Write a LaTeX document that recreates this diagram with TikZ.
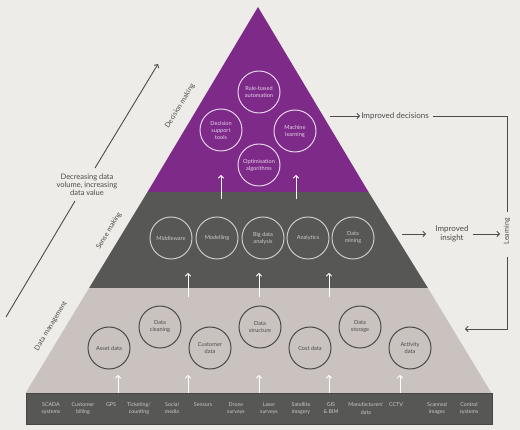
\documentclass[tikz,border=0pt]{standalone}
\usepackage{fontspec}
\setmainfont{Lato}
\usetikzlibrary{arrows.meta}
\definecolor{bgc}{HTML}{EDECE8}
\definecolor{purp}{HTML}{7D2A88}
\definecolor{darkl}{HTML}{575756}
\definecolor{lightl}{HTML}{C9C2BF}
\definecolor{barc}{HTML}{575755}
\definecolor{txtc}{HTML}{4C4C4C}
\definecolor{pcirc}{HTML}{E6D3EA}
\definecolor{gcirc}{HTML}{CACAC8}
\definecolor{dcirc}{HTML}{4A4A4A}
\tikzset{
  tip/.style={-{Straight Barb[length=2.6pt,width=5.5pt,line width=0.9pt]}},
  uparr/.style={tip, draw=white, line width=0.9pt},
  sidearr/.style={tip, draw=txtc, line width=0.9pt},
  sideline/.style={draw=txtc, line width=0.9pt},
  circ/.style={circle, minimum size=42pt, inner sep=0pt, align=center, line width=1pt, font=\fontsize{5.6}{7}\selectfont},
  pc/.style={circ, draw=pcirc, text=pcirc},
  gc/.style={circ, draw=gcirc, text=gcirc},
  dc/.style={circ, draw=dcirc, text=dcirc},
  barlbl/.style={anchor=north, inner sep=0pt, align=center, text=gcirc, font=\fontsize{5.3}{7.3}\selectfont},
  layerlbl/.style={rotate=59, text=txtc, font=\fontsize{7}{8}\selectfont, inner sep=0pt},
  sidelbl/.style={text=txtc, align=center, font=\fontsize{8}{8.5}\selectfont, inner sep=1pt}
}
\begin{document}
\begin{tikzpicture}[x=1pt,y=-1pt]
\useasboundingbox (0,0) rectangle (520,430);
\fill[bgc] (0,0) rectangle (520,430);
% layers
\fill[lightl] (89.1,288) -- (427.9,288) -- (491.4,393) -- (25.6,393) -- cycle;
\fill[darkl] (147.5,192) -- (368.5,192) -- (427.9,288) -- (89.1,288) -- cycle;
\fill[purp] (258,7) -- (368.5,192) -- (147.5,192) -- cycle;
\filldraw[fill=barc, draw=darkl!80!black, line width=0.5pt] (26,393) rectangle (492,424);

% decision making circles
\node[pc] (rba) at (259,92) {Rule-based\\automation};
\node[pc] (dst) at (221,130) {Decision\\support\\tools};
\node[pc] (ml) at (295,131) {Machine\\learning};
\node[pc] (oa) at (259,165) {Optimisation\\algorithms};

% sense making circles
\node[gc] (mw) at (171,238) {Middleware};
\node[gc] (mo) at (217,238) {Modelling};
\node[gc] (bda) at (263,238) {Big data\\analysis};
\node[gc] (an) at (308,238) {Analytics};
\node[gc] (dmi) at (353,238) {Data\\mining};

% data management circles
\node[dc] (ad) at (109,348) {Asset data};
\node[dc] (dcl) at (160,327) {Data\\cleaning};
\node[dc] (cud) at (210,348) {Customer\\data};
\node[dc] (dsu) at (260,327) {Data\\structure};
\node[dc] (cod) at (310,348) {Cost data};
\node[dc] (dsg) at (360,327) {Data\\storage};
\node[dc] (acd) at (410,348) {Activity\\data};

% bottom bar labels
\node[barlbl] (b1) at (51,402.5) {SCADA\\systems};
\node[barlbl] (b2) at (83,402.5) {Customer\\billing};
\node[barlbl] (b3) at (111,402.5) {GPS};
\node[barlbl] (b4) at (139,402.5) {Ticketing/\\counting};
\node[barlbl] (b5) at (172,402.5) {Social\\media};
\node[barlbl] (b6) at (203,402.5) {Sensors};
\node[barlbl] (b7) at (236,402.5) {Drone\\surveys};
\node[barlbl] (b8) at (269,402.5) {Laser\\surveys};
\node[barlbl] (b9) at (301,402.5) {Satellite\\imagery};
\node[barlbl] (b10) at (331,402.5) {GIS\\\& BIM};
\node[barlbl] (b11) at (366,402.5) {Manufacturers'\\data};
\node[barlbl] (b12) at (396,402.5) {CCTV};
\node[barlbl] (b13) at (437,402.5) {Scanned\\images};
\node[barlbl] (b14) at (469,402.5) {Control\\systems};

% white up arrows
\foreach \x [count=\i] in {118,188,259,329,400} {
  \coordinate (ua\i) at (\x,393);
  \coordinate (ub\i) at (\x,375);
  \draw[uparr] (ua\i) -- (ub\i);
}
\foreach \x [count=\i] in {188,259,329} {
  \coordinate (va\i) at (\x,297);
  \coordinate (vb\i) at (\x,273);
  \draw[uparr] (va\i) -- (vb\i);
}
\foreach \x [count=\i] in {221,296} {
  \coordinate (wa\i) at (\x,199);
  \coordinate (wb\i) at (\x,175);
  \draw[uparr] (wa\i) -- (wb\i);
}

% layer labels
\node[layerlbl] (ldm) at (180,106) {Decision making};
\node[layerlbl] (lsm) at (109,231) {Sense making};
\node[layerlbl] (ldmg) at (51,326) {Data management};

% left diagonal arrow
\node[sidelbl, font=\fontsize{7.5}{8}\selectfont] (dec) at (87,185) {Decreasing data\\volume, increasing\\data value};
\coordinate (dl0) at (6,317);
\coordinate (dl1) at (75,201);
\coordinate (dl2) at (95,168);
\coordinate (dl3) at (158,64);
\draw[sideline] (dl0) -- (dl1);
\draw[sidearr] (dl2) -- (dl3);

% right side
\node[sidelbl] (impdec) at (395,116) {Improved decisions};
\node[sidelbl] (impins) at (452,234) {Improved\\insight};
\node[sidelbl, rotate=90, font=\fontsize{7}{8}\selectfont] (learn) at (507,231) {Learning};
\coordinate (id0) at (330,116);
\coordinate (ii0) at (402,234);
\coordinate (ii1) at (426,234);
\coordinate (rt) at (507,116);
\coordinate (rb) at (507,329);
\coordinate (lend) at (465,329);
\draw[sidearr] (id0) -- (impdec.west);
\draw[sidearr] (ii0) -- (ii1);
\draw[sidearr] (impins.east) ++(3,0) coordinate (ii2) (ii2) -- (500,234) coordinate (ii3);
\draw[sideline] (impdec.east) ++(3,0) coordinate (rtl) (rtl) -- (rt) -- (507,212) coordinate (lt);
\draw[sidearr] (507,257) coordinate (lb) (lb) -- (rb) -- (lend);
\end{tikzpicture}
\end{document}
